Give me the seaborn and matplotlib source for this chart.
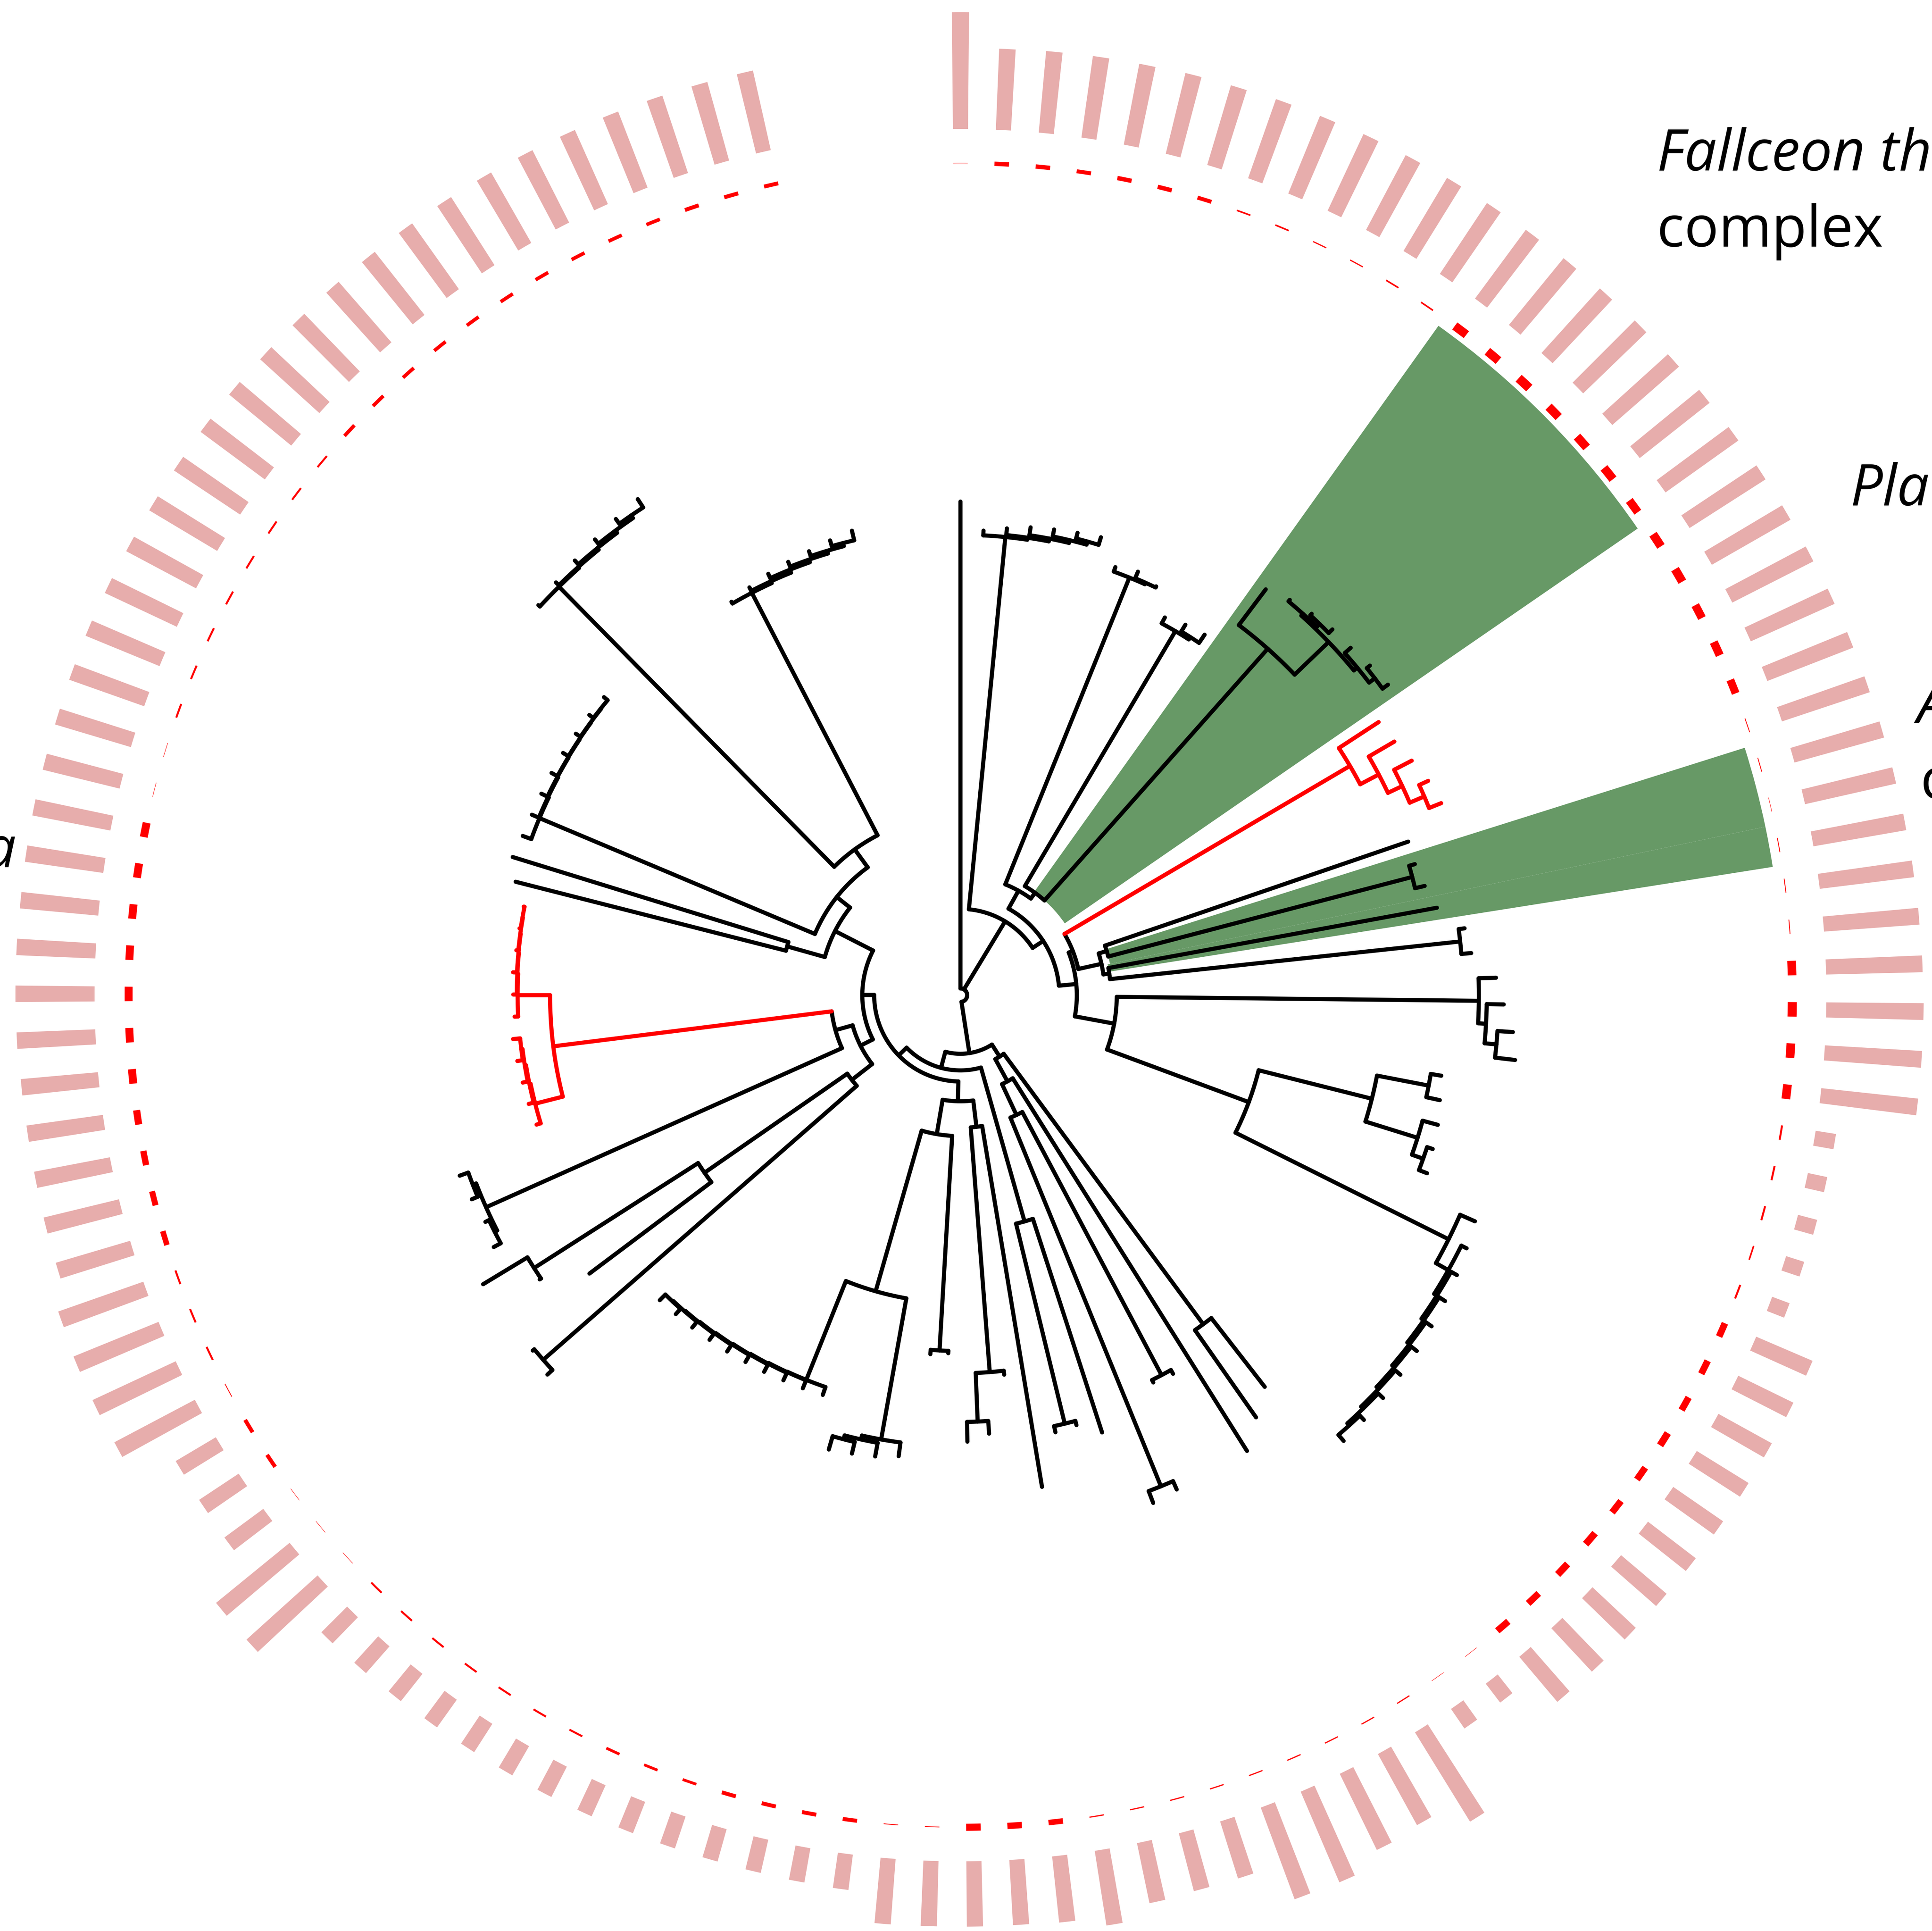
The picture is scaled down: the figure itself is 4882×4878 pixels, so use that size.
"""Circular phylogeny with two trait rings (pink bars, red dashes) and highlighted clades"""

import numpy as np
import matplotlib
matplotlib.use("Agg")
import matplotlib.pyplot as plt
import seaborn as sns

# ---------------------------------------------------------------- data
TIP_STEP = 2.843   # degrees between neighbouring tips
FIRST_TIP = 90.0   # tip 0 sits at 12 o'clock, the others follow clockwise

# distance of every tip from the root (tree units = output pixels)
TIP_R = [
    1247,
    1175, 1185, 1195, 1200, 1205, 1210,
    1150, 1160, 1145,
    1085, 1095, 1100,
    1283, 1300, 1310, 1318, 1320, 1328, 1335,
    1262, 1270, 1285, 1300, 1308,
    1196, 1195, 1205, 1224, 1285, 1295,
    1354, 1373, 1399, 1411,
    1232, 1240, 1250, 1255, 1262,
    1420,
    1430, 1440, 1448, 1455, 1462, 1468, 1475, 1480, 1485,
    1253, 1302,
    1360,
    1097, 1093,
    1363, 1372,
    1161, 1125, 1130,
    1259, 965, 1110, 1128,
    905, 910,
    1175, 1185, 1190, 1195,
    1068, 1070, 1071, 1073, 1074, 1076, 1077, 1079, 1080, 1082,
    1417, 1405,
    1172, 1283, 1410,
    1340, 1330, 1338, 1345,
    1120, 1125, 1128, 1132, 1136,
    1128, 1130, 1132, 1128, 1127, 1126,
    1160, 1184,
    1177, 1175, 1175, 1176, 1176, 1175, 1175, 1174,
    1452, 1460, 1468, 1476, 1485, 1495,
    1150, 1160, 1170, 1178, 1185, 1195, 1205,
]

# outer ring: bar length per tip
BAR_LEN = [
    295,
    205, 207, 208, 208, 210, 210, 212, 212, 214, 214, 215, 215,
    216, 218, 220, 222, 224, 225, 226,
    228, 229, 230, 232, 233, 234,
    235, 236, 238, 240, 242, 244,
    246, 246, 246,
    52, 50, 50, 48, 47,
    155, 155, 154, 154, 153, 152, 151, 150, 150, 149,
    60, 60,
    265, 205, 214, 249, 247,
    151, 151, 155, 191, 168, 165, 165,
    165, 166,
    90, 88, 86, 85, 85, 85, 86, 86, 85, 85, 86, 88, 90, 92,
    242, 240,
    122, 120, 118,
    230, 232, 232, 228,
    196, 196, 195, 195, 196, 199,
    200, 200, 199, 200, 201, 200, 200, 201, 202, 201, 200, 200, 201,
    202, 203, 202, 202, 203, 203, 204, 204, 205, 205, 205, 206, 206, 206, 206,
]

# inner ring: thickness of the red dash per tip
DASH_W = [
    1,
    11, 11, 10, 11, 11, 10,
    4, 4, 3, 3, 4, 4,
    22, 22, 23, 22, 22, 22, 21, 22, 22, 21, 21, 20,
    2, 2, 1, 2, 2, 2,
    22, 23, 22, 22,
    5, 5, 5, 4, 5,
    17, 17, 17, 18, 17, 17, 18, 18, 17, 17,
    1, 1,
    3, 3, 3, 3, 3, 3, 3, 3, 3,
    14, 16, 18,
    2, 2,
    10, 10, 10, 10,
    7, 7, 7,
    5, 5, 5, 5, 5, 5, 5,
    1, 1, 1,
    10, 10,
    2,
    5, 5, 5,
    14, 15, 16, 18, 20, 20,
    20, 20, 20, 20, 20,
    1, 1,
    5, 5, 5, 5, 5, 5, 5, 5,
    9, 9, 9, 9, 9, 9, 9, 9, 9, 9, 10, 10, 10,
]

RED_CLADES = [(20, 24), (89, 99)]
GREEN_CLADES = [(13, 19), (26, 27), (28, 28)]

# topology: "(child,child):node_radius", tips are indices into TIP_R
A1 = "(1,(2,(3,(4,(5,6):1190):1182):1175):1168):1163"
C7 = "(7,(8,9):1142):1138"
C10 = "(10,(11,12):1075):1068"
G0 = "(13,((14,(15,16):1305):1295,(17,(18,19):1318):1300):1289):1170"
RC = "(20,(21,(22,(23,24):1275):1235):1195):1142"
ZB = "((25,(26,27):1180):386,(28,(29,30):1270):380):365"
C31 = "(31,(32,(33,34):1360):1330):1310"
Y1 = "((35,36):1205,(37,(38,39):1240):1210):1072"
Y2 = ("(40,(41,(42,(43,(44,(45,(46,(47,(48,49):1465):1458):1451)"
      ":1444):1437):1430):1423):1415):1379")
L2 = "((50,51):1033,(52,((53,54):1086,(55,56):1340):334):248):184"
N57 = "(57,(58,59):1114):594"
F60 = "(60,(61,(62,63):1078):955):335"
CL66 = "(66,(67,(68,69):1160):1150):1140"
CB70 = ("(70,(71,(72,(73,(74,(75,(76,(77,(78,79):1062):1060):1058)"
        ":1056):1054):1052):1050):1048):1047")
YP = "((80,81):1400,(82,(83,84):1279):787):348"
X85 = "((85,86):1320,(87,88):1322):1313"
W89 = "(89,(90,(91,(92,93):1118):1115):1112):1109"
W94 = "(94,(95,(96,(97,(98,99):1124):1123):1122):1121):1119"
T100 = "(100,101):455"
S102 = ("(102,(103,(104,(105,(106,(107,(108,109):1162):1161):1160)"
        ":1159):1158):1156):1154")
P110 = "(110,(111,(112,(113,(114,115):1470):1462):1455):1450):1447"
Q116 = "(116,(117,(118,(119,(120,(121,122):1180):1172):1165):1158):1150):1145"

CLADE_A = (f"({A1},(({C7},({C10},{G0}):320):302,"
           f"(({RC},{ZB}):305,({C31},({Y1},{Y2}):777):395):294):250):218")
CLADE_J = (f"((({S102},({P110},{Q116}):455):399,{T100}):356,"
           f"((({W94},{W89}):1037,{X85}):328,{YP}):283):248")
CLADE_E = f"(((64,65):899,({CL66},{CB70}):778):356,{F60}):268"
CLADE_B = f"((({CLADE_J},{CLADE_E}):218,{N57}):190,{L2}):148"
TREE = f"(0,{CLADE_A},{CLADE_B}):17"

# ------------------------------------------------------------ geometry
W_PX, H_PX = 4882, 4878
CX, CY = 2427, 2514          # tree centre, pixels from the top-left corner
R_MAX = 2600
RING_R = 2102                # red dashed ring
BAR_R0 = 2188                # inner edge of the pink bars
WEDGE_R = 2078               # outer edge of the green highlights
PINK = "#e7adac"
RED = "#ff0000"
GREEN = "#679966"
LW = 7.5


def parse(s):
    s = s.replace(" ", "")
    pos = 0

    def number():
        nonlocal pos
        j = pos
        while pos < len(s) and (s[pos].isdigit() or s[pos] == "."):
            pos += 1
        return s[j:pos]

    def node():
        nonlocal pos
        if s[pos] == "(":
            pos += 1
            kids = [node()]
            while s[pos] == ",":
                pos += 1
                kids.append(node())
            pos += 2          # skip "):"
            return {"kids": kids, "r": float(number())}
        i = int(number())
        return {"tip": i, "r": TIP_R[i]}

    return node()


tip_ang = FIRST_TIP - TIP_STEP * np.arange(len(TIP_R))


def layout(nd, parent_r=None):
    nd["pr"] = parent_r
    if "tip" in nd:
        nd["a"] = tip_ang[nd["tip"]]
        nd["tips"] = {nd["tip"]}
        return
    for k in nd["kids"]:
        layout(k, nd["r"])
    nd["a"] = np.mean([k["a"] for k in nd["kids"]])
    nd["tips"] = set().union(*[k["tips"] for k in nd["kids"]])


def is_red(nd):
    return any(nd["tips"] <= set(range(a, b + 1)) for a, b in RED_CLADES)


def find(nd, tips):
    if nd["tips"] == tips:
        return nd
    for k in nd.get("kids", []):
        if tips <= k["tips"]:
            return find(k, tips)
    return None


root = parse(TREE)
layout(root)

sns.set_theme(style="white")
plt.rcParams["font.family"] = ["Open Sans", "DejaVu Sans"]

fig = plt.figure(figsize=(W_PX / 100, H_PX / 100), dpi=100)
ax = fig.add_axes([(CX - R_MAX) / W_PX, (H_PX - CY - R_MAX) / H_PX,
                   2 * R_MAX / W_PX, 2 * R_MAX / H_PX], projection="polar")
ax.set_ylim(0, R_MAX)
ax.set_axis_off()

theta = np.deg2rad(tip_ang)

# green clade highlights
for a, b in GREEN_CLADES:
    nd = find(root, set(range(a, b + 1)))
    r0 = nd["pr"]
    mid = np.deg2rad(tip_ang[a:b + 1].mean())
    ax.bar(mid, WEDGE_R - r0, width=np.deg2rad(TIP_STEP * (b - a + 1)),
           bottom=r0, color=GREEN, linewidth=0, zorder=1)

# trait rings
ax.bar(theta, BAR_LEN, width=np.deg2rad(1.0), bottom=BAR_R0,
       color=PINK, linewidth=0, zorder=2)
dash = np.array(DASH_W, dtype=float)
ax.bar(theta, dash, width=np.deg2rad(1.0), bottom=RING_R - dash / 2,
       color=RED, linewidth=0, zorder=2)


def draw(nd, red):
    if "kids" not in nd:
        return
    angs = [k["a"] for k in nd["kids"]]
    arc = np.linspace(min(angs), max(angs), 200)
    ax.plot(np.deg2rad(arc), np.full_like(arc, nd["r"]),
            color=RED if red else "black", lw=LW,
            solid_capstyle="round", zorder=3)
    for k in nd["kids"]:
        kred = red or is_red(k)
        ax.plot(np.deg2rad([k["a"], k["a"]]), [nd["r"], k["r"]],
                color=RED if kred else "black", lw=LW,
                solid_capstyle="round", zorder=3)
        draw(k, kred)


draw(root, False)

# clade labels (they run off the edge of the panel, as in the original)
FS = 104
labels = [
    ("Fallceon thermophilos", 4187, 431, "italic", "left"),
    ("complex", 4187, 623, "normal", "left"),
    ("Plac", 4676, 1277, "italic", "left"),
    ("A", 4843, 1827, "italic", "left"),
    ("c", 4853, 2018, "normal", "left"),
    ("a", 40, 2191, "italic", "right"),
]
for txt, x, y, st, ha in labels:
    fig.text(x / W_PX, 1 - y / H_PX, txt, fontsize=FS, style=st,
             ha=ha, va="baseline", color="black")

fig.savefig("out.png", dpi=100, facecolor="white")
